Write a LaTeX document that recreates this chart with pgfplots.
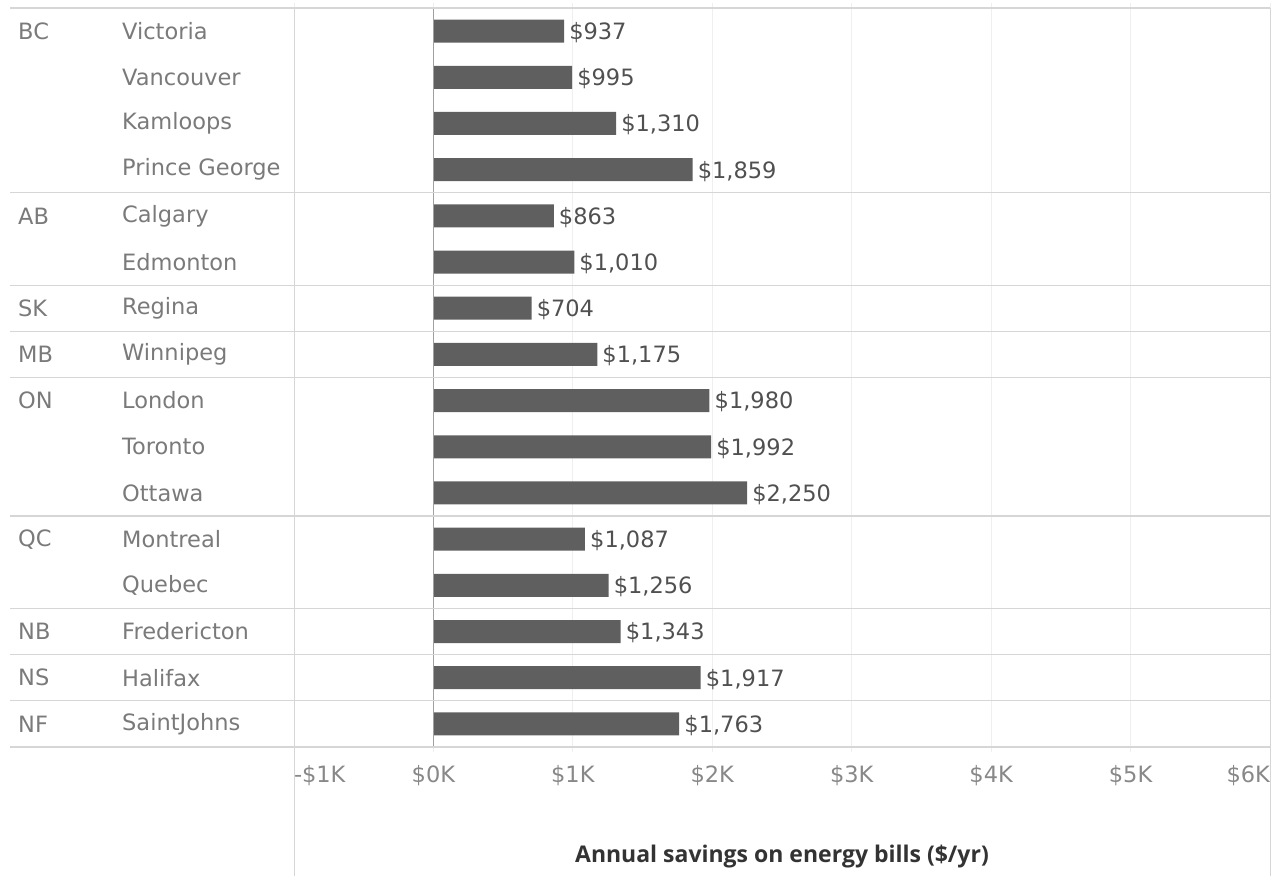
\documentclass[border=0pt]{standalone}
\usepackage{fontspec}
\setmainfont{DejaVu Sans}
\newfontfamily\titlefont{Open Sans}
\usepackage{pgfplots}
\pgfplotsset{compat=1.18}
\definecolor{barc}{HTML}{5F5F5F}
\definecolor{citytxt}{HTML}{7A7A7A}
\definecolor{valtxt}{HTML}{505050}
\definecolor{ticktxt}{HTML}{888888}
\definecolor{titletxt}{HTML}{333333}
\definecolor{sepc}{HTML}{D6D6D6}
\definecolor{gridc}{HTML}{EFEFEF}
\definecolor{zeroc}{HTML}{A0A0A0}
\newcommand{\lblfont}{\fontsize{22.5}{26}\selectfont}
\begin{document}
\begin{tikzpicture}[x=1pt,y=1pt]
\path[use as bounding box] (0,0) rectangle (1274,876);
\begin{axis}[
  at={(294pt,129pt)}, anchor=south west,
  scale only axis, width=976pt, height=739pt,
  xbar, bar width=23pt,
  xmin=-1000, xmax=6000,
  ymin=-0.5, ymax=15.5, y dir=reverse,
  axis line style={draw=none},
  xmajorgrids, grid style={gridc, line width=0.8pt},
  xtick={-1000,0,1000,2000,3000,4000,5000,6000},
  xticklabels={\rlap{-\$1K},\$0K,\$1K,\$2K,\$3K,\$4K,\$5K,\llap{\$6K}},
  major tick length=5pt, tick align=outside,
  x tick style={gridc, line width=0.8pt},
  y tick style={draw=none},
  xticklabel style={font=\lblfont, text=ticktxt, anchor=north, inner sep=0pt, yshift=-13pt},
  ytick={0,...,15},
  yticklabels={Victoria,Vancouver,Kamloops,Prince George,Calgary,Edmonton,Regina,Winnipeg,London,Toronto,Ottawa,Montreal,Quebec,Fredericton,Halifax,SaintJohns},
  yticklabel style={font=\lblfont, text=citytxt, anchor=west, inner sep=0pt, xshift=-167pt},
  /pgf/number format/assume math mode=true,
  point meta=x,
  nodes near coords={\$\pgfmathprintnumber[fixed,precision=0,1000 sep={,}]{\pgfplotspointmeta}},
  every node near coord/.append style={font=\lblfont, text=valtxt, anchor=west, inner sep=0pt, xshift=5pt, yshift=-1.5pt},
  xlabel={\titlefont\bfseries Annual savings on energy bills (\$/yr)},
  xlabel style={font=\fontsize{23}{26}\selectfont, text=titletxt, at={(axis description cs:0.5,0)}, anchor=center, yshift=-110pt},
  clip=false,
]
\addplot[fill=barc, draw=none] coordinates {
(937,0) (995,1) (1310,2) (1859,3) (863,4) (1010,5) (704,6) (1175,7)
(1980,8) (1992,9) (2250,10) (1087,11) (1256,12) (1343,13) (1917,14) (1763,15)};
\draw[zeroc, line width=1pt] (axis cs:0,-0.5) -- (axis cs:0,15.5);
\end{axis}
\foreach \k in {0,4,6,7,8,11,13,14,15,16} {
  \draw[sepc, line width=1.2pt] (10,{868-46.1875*\k}) -- (1270,{868-46.1875*\k});
}
\draw[sepc, line width=1pt] (294,868) -- (294,0);
\draw[sepc, line width=1pt] (1270.5,868) -- (1270.5,0);
\begin{scope}[every node/.style={font=\lblfont, text=citytxt, anchor=west, inner sep=0pt}]
\node at (18,{868-46.1875*0.5}) {BC};
\node at (18,{868-46.1875*4.5}) {AB};
\node at (18,{868-46.1875*6.5}) {SK};
\node at (18,{868-46.1875*7.5}) {MB};
\node at (18,{868-46.1875*8.5}) {ON};
\node at (18,{868-46.1875*11.5}) {QC};
\node at (18,{868-46.1875*13.5}) {NB};
\node at (18,{868-46.1875*14.5}) {NS};
\node at (18,{868-46.1875*15.5}) {NF};
\end{scope}
\end{tikzpicture}
\end{document}
